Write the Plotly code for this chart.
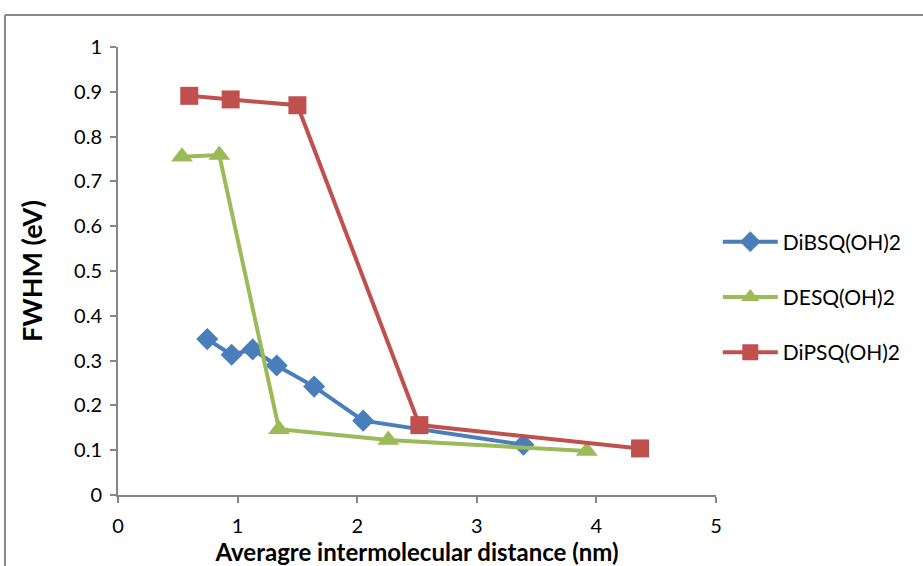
import plotly.graph_objects as go

dibsq_x = [0.746, 0.95, 1.126, 1.327, 1.64, 2.05, 3.39]
dibsq_y = [0.348, 0.313, 0.325, 0.289, 0.242, 0.166, 0.112]
desq_x = [0.535, 0.847, 1.346, 2.26, 3.92]
desq_y = [0.755, 0.759, 0.147, 0.123, 0.098]
dipsq_x = [0.596, 0.942, 1.5, 2.52, 4.365]
dipsq_y = [0.891, 0.883, 0.87, 0.156, 0.104]

x_ticks = [0, 1, 2, 3, 4, 5]
y_ticks = [0, 0.1, 0.2, 0.3, 0.4, 0.5, 0.6, 0.7, 0.8, 0.9, 1]
y_tick_text = ["0", "0.1", "0.2", "0.3", "0.4", "0.5", "0.6", "0.7", "0.8", "0.9", "1"]

FONT = "Lato"
fig = go.Figure()
fig.add_trace(go.Scatter(x=dibsq_x, y=dibsq_y, name="DiBSQ(OH)2", mode="lines+markers",
                         line=dict(color="#4A7EBB", width=4), legendgroup="a",
                         marker=dict(symbol="diamond", size=17, color="#4A7EBB")))
fig.add_trace(go.Scatter(x=desq_x, y=desq_y, name="DESQ(OH)2", mode="lines+markers",
                         line=dict(color="#9BBB59", width=4), legendgroup="b",
                         marker=dict(symbol="triangle-up", size=19, color="#9BBB59")))
fig.add_trace(go.Scatter(x=dipsq_x, y=dipsq_y, name="DiPSQ(OH)2", mode="lines+markers",
                         line=dict(color="#C0504D", width=4), legendgroup="c",
                         marker=dict(symbol="square", size=18, color="#C0504D")))

axis_common = dict(showgrid=False, zeroline=False, showline=True, linecolor="#868686",
                   linewidth=2, ticks="outside", ticklen=6, tickcolor="#868686", tickwidth=2,
                   automargin=False,
                   tickfont=dict(family=FONT, size=20, color="#000"))
fig.update_layout(
    width=923, height=566,
    margin=dict(l=118, r=207, t=47, b=71, autoexpand=False),
    paper_bgcolor="white", plot_bgcolor="white",
    xaxis=dict(range=[0, 5], tickvals=x_ticks, ticktext=[str(v) for v in x_ticks],
               ticklabelstandoff=6,
               title=dict(text="<b>Averagre intermolecular distance (nm)</b>", standoff=4,
                          font=dict(family=FONT, size=24, color="#000")), **axis_common),
    yaxis=dict(range=[0, 1], tickvals=y_ticks, ticktext=y_tick_text, ticklabelstandoff=4,
               title=dict(text="<b>FWHM (eV)</b>", standoff=24,
                          font=dict(family=FONT, size=27, color="#000")), **axis_common),
    legend=dict(x=1.003, y=0.442, xanchor="left", yanchor="middle", tracegroupgap=25,
                itemwidth=55, font=dict(family=FONT, size=21, color="#000"),
                bgcolor="rgba(0,0,0,0)"),
    showlegend=True,
    shapes=[
        dict(type="line", xref="paper", yref="paper", x0=-0.189, x1=1.4, y0=1.0714, y1=1.0714,
             line=dict(color="#888888", width=2)),
        dict(type="line", xref="paper", yref="paper", x0=-0.189, x1=-0.189, y0=1.0714, y1=-0.2,
             line=dict(color="#888888", width=2)),
    ],
)
fig.write_html("out.html")
